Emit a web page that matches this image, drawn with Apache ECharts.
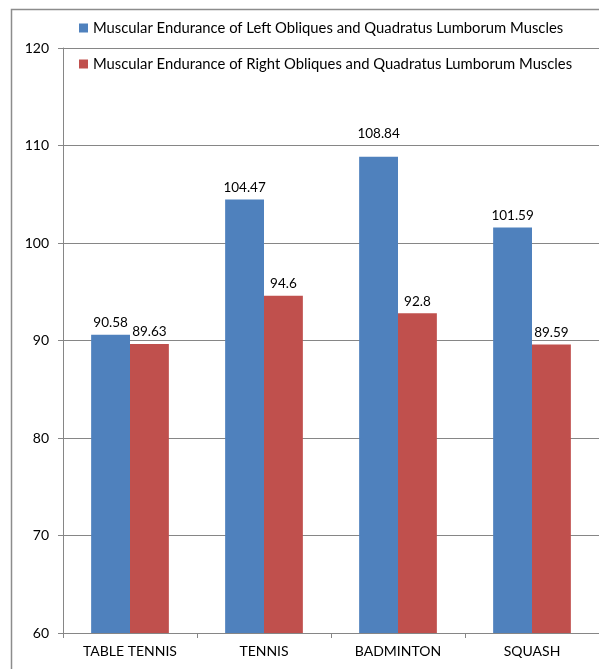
<!DOCTYPE html>
<html><head><meta charset="utf-8">
<script src="https://cdn.jsdelivr.net/npm/echarts@6/dist/echarts.min.js"></script>
<style>html,body{margin:0;padding:0;background:#fff}#c{width:599px;height:669px}</style>
</head><body><div id="c"></div>
<script>
var categories = ['TABLE TENNIS', 'TENNIS', 'BADMINTON', 'SQUASH'];
var leftName = 'Muscular Endurance of Left Obliques and Quadratus Lumborum Muscles';
var rightName = 'Muscular Endurance of Right Obliques and Quadratus Lumborum Muscles';
var leftValues = [90.58, 104.47, 108.84, 101.59];
var rightValues = [89.63, 94.6, 92.8, 89.59];
var yMin = 60, yMax = 120, yStep = 10;

var FONT = 'Lato';
var chart = echarts.init(document.getElementById('c'), null, {renderer: 'canvas'});
var labelCfg = {show: true, position: 'top', distance: 5, color: '#000', fontFamily: FONT, fontSize: 13.5};
// Label raised above a gridline it would otherwise touch (as in the original)
var leftData = leftValues.map(function (v, i) {
  return i === 2 ? {value: v, label: {distance: 16}} : v;
});
chart.setOption({
  animation: false,
  textStyle: {fontFamily: FONT},
  graphic: [{type: 'rect', shape: {x: 11.5, y: 9.5, width: 700, height: 700}, style: {fill: 'none', stroke: '#8c8c8c', lineWidth: 1.5}, z: -10}],
  legend: {
    orient: 'vertical', left: 74, top: 15, padding: 5, itemWidth: 9, itemHeight: 9, itemGap: 20,
    icon: 'rect',
    textStyle: {fontFamily: FONT, fontSize: 14.8, color: '#000', lineHeight: 16},
    data: [leftName, rightName]
  },
  grid: {left: 63, top: 48, width: 544, bottom: 36, containLabel: false},
  xAxis: {
    type: 'category', data: categories,
    axisLine: {lineStyle: {color: '#868686'}},
    axisTick: {show: true, length: 5, lineStyle: {color: '#868686'}},
    axisLabel: {color: '#000', fontFamily: FONT, fontSize: 14, margin: 11}
  },
  yAxis: {
    type: 'value', min: yMin, max: yMax, interval: yStep,
    axisLine: {show: true, lineStyle: {color: '#868686'}},
    axisTick: {show: true, length: 5, lineStyle: {color: '#868686'}},
    axisLabel: {color: '#000', fontFamily: FONT, fontSize: 14, margin: 14},
    splitLine: {lineStyle: {color: '#868686'}}
  },
  series: [
    {name: leftName, type: 'bar', data: leftData, itemStyle: {color: '#4F81BD'}, barGap: '0%', barCategoryGap: '42%', label: labelCfg},
    {name: rightName, type: 'bar', data: rightValues, itemStyle: {color: '#C0504D'}, barGap: '0%', barCategoryGap: '42%', label: labelCfg}
  ]
});
</script></body></html>
